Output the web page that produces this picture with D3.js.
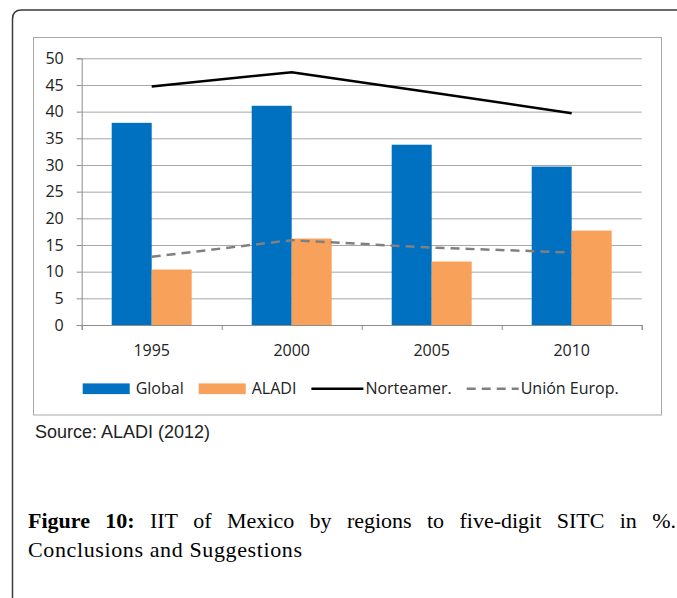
<!DOCTYPE html>
<html>
<head>
<meta charset="utf-8">
<script src="https://cdn.jsdelivr.net/npm/d3@7"></script>
<style>
  body { margin: 0; background: #fff; }
  svg { display: block; }
</style>
</head>
<body>
<svg></svg>
<script>
var years = ["1995", "2000", "2005", "2010"];
var globalVals = [37.9, 41.1, 33.8, 29.7];
var aladiVals = [10.4, 16.2, 11.9, 17.7];
var norteVals = [44.7, 47.4, 43.6, 39.7];
var ueVals = [12.8, 15.9, 14.5, 13.6];
var yTicks = [0, 5, 10, 15, 20, 25, 30, 35, 40, 45, 50];
var barSeries = ["Global", "ALADI"];
var legendNames = ["Global", "ALADI", "Norteamer.", "Unión Europ."];

draw();

function draw(){
  var width = 677, height = 598;
  var svg = d3.select("svg").attr("width", width).attr("height", height);
  var axisFont = "'Open Sans', sans-serif";

  // outer page frame, only top and left visible
  svg.append("path")
     .attr("d", "M12.5,598 L12.5,19 Q12.5,10 21.5,10 L677,10")
     .attr("fill", "none").attr("stroke", "#3a3a3a").attr("stroke-width", 1.5);

  // chart frame
  svg.append("rect")
     .attr("x", 33.5).attr("y", 37.5).attr("width", 628).attr("height", 377.5)
     .attr("fill", "#fff").attr("stroke", "#a9a9a9").attr("stroke-width", 1);

  var left = 81.7, right = 641.7, top = 58.3, bottom = 325;

  var x0 = d3.scaleBand().domain(years).range([left, right]).padding(0);
  var x1 = d3.scaleBand().domain(barSeries).range([0, x0.bandwidth()])
             .paddingInner(0).paddingOuter(0.75);
  var y = d3.scaleLinear().domain([0, 50]).range([bottom, top]);

  // gridlines
  svg.append("g")
     .attr("transform", "translate(" + left + ",0)")
     .call(d3.axisLeft(y).tickValues(yTicks).tickSize(-(right - left)).tickFormat(""))
     .call(function(g){
       g.select(".domain").remove();
       g.selectAll("line").attr("stroke", "#a6a6a6").attr("stroke-width", 1);
     });

  // y axis
  svg.append("g")
     .attr("transform", "translate(" + left + ",0)")
     .call(d3.axisLeft(y).tickValues(yTicks).tickSize(5).tickPadding(13))
     .call(function(g){
       g.select(".domain").attr("stroke", "#8c8c8c");
       g.selectAll("line").attr("stroke", "#8c8c8c");
       g.selectAll("text").attr("font-family", axisFont).attr("font-size", 16)
        .attr("fill", "#222");
     });

  // bars
  var colors = {Global: "#0070c0", ALADI: "#f8a15b"};
  var rows = years.map(function(yr, i){
    return {year: yr, vals: [{k: "Global", v: globalVals[i]}, {k: "ALADI", v: aladiVals[i]}]};
  });
  svg.append("g").selectAll("g")
     .data(rows).enter().append("g")
     .attr("transform", function(d){ return "translate(" + x0(d.year) + ",0)"; })
     .selectAll("rect")
     .data(function(d){ return d.vals; })
     .enter().append("rect")
     .attr("x", function(d){ return x1(d.k); })
     .attr("width", x1.bandwidth())
     .attr("y", function(d){ return y(d.v); })
     .attr("height", function(d){ return y(0) - y(d.v); })
     .attr("fill", function(d){ return colors[d.k]; });

  // x axis
  var xb = d3.scaleLinear().domain([0, years.length]).range([left, right]);
  svg.append("g")
     .attr("transform", "translate(0," + bottom + ")")
     .call(d3.axisBottom(xb).tickValues(d3.range(years.length + 1)).tickSize(5).tickFormat(""))
     .call(function(g){
       g.select(".domain").attr("stroke", "#8c8c8c");
       g.selectAll("line").attr("stroke", "#8c8c8c");
     });
  svg.append("g").selectAll("text")
     .data(years).enter().append("text")
     .attr("x", function(d){ return x0(d) + x0.bandwidth() / 2; })
     .attr("y", 355.5)
     .attr("text-anchor", "middle")
     .attr("font-family", axisFont).attr("font-size", 16).attr("fill", "#222")
     .text(function(d){ return d; });

  // lines
  var line = d3.line()
     .x(function(d, i){ return x0(years[i]) + x0.bandwidth() / 2; })
     .y(function(d){ return y(d); });
  svg.append("path").datum(ueVals)
     .attr("d", line).attr("fill", "none")
     .attr("stroke", "#808080").attr("stroke-width", 2.5)
     .attr("stroke-dasharray", "9,6");
  svg.append("path").datum(norteVals)
     .attr("d", line).attr("fill", "none")
     .attr("stroke", "#000").attr("stroke-width", 2.5);

  // legend
  var styles = [
    {type: "rect", color: colors.Global},
    {type: "rect", color: colors.ALADI},
    {type: "line", color: "#000", dash: null},
    {type: "line", color: "#808080", dash: "9,6"}
  ];
  var lx = 82.7, ly = 388.7;
  var legend = svg.append("g");
  legendNames.forEach(function(name, i){
    var s = styles[i];
    var symW = s.type == "rect" ? 47 : 52;
    if (s.type == "rect"){
      legend.append("rect").attr("x", lx).attr("y", ly - 5.3)
            .attr("width", symW).attr("height", 10.7).attr("fill", s.color);
    } else {
      legend.append("line").attr("x1", lx).attr("x2", lx + symW)
            .attr("y1", ly).attr("y2", ly)
            .attr("stroke", s.color).attr("stroke-width", 2.5)
            .attr("stroke-dasharray", s.dash);
    }
    var tx = lx + symW + (s.type == "rect" ? 6 : 2);
    var t = legend.append("text").attr("x", tx).attr("y", ly + 5.6)
                  .attr("font-family", axisFont).attr("font-size", 16).attr("fill", "#222")
                  .text(name);
    lx = tx + t.node().getComputedTextLength() + 15;
  });

  // source
  svg.append("text").attr("x", 35).attr("y", 438)
     .attr("font-family", "'Liberation Sans', Arial, sans-serif").attr("font-size", 18)
     .attr("fill", "#222").text("Source: ALADI (2012)");

  // caption, justified first line
  var capFont = "'Liberation Serif', 'Times New Roman', serif";
  var capSize = 22;
  var words = [["Figure", true], ["10:", true], ["IIT"], ["of"], ["Mexico"], ["by"],
               ["regions"], ["to"], ["five-digit"], ["SITC"], ["in"], ["%."]];
  var cap = svg.append("g");
  var nodes = words.map(function(w){
    return cap.append("text").attr("y", 528)
              .attr("font-family", capFont).attr("font-size", capSize)
              .attr("font-weight", w[1] ? "bold" : "normal").attr("fill", "#000")
              .text(w[0]);
  });
  var widths = nodes.map(function(n){ return n.node().getComputedTextLength(); });
  var x0c = 28, x1c = 676;
  var gap = (x1c - x0c - d3.sum(widths)) / (words.length - 1);
  var cx = x0c;
  nodes.forEach(function(n, i){
    n.attr("x", cx);
    cx += widths[i] + gap;
  });
  svg.append("text").attr("x", 28).attr("y", 557)
     .attr("font-family", capFont).attr("font-size", capSize).attr("fill", "#000")
     .attr("textLength", 274).attr("lengthAdjust", "spacing")
     .text("Conclusions and Suggestions");
}
</script>
</body>
</html>
